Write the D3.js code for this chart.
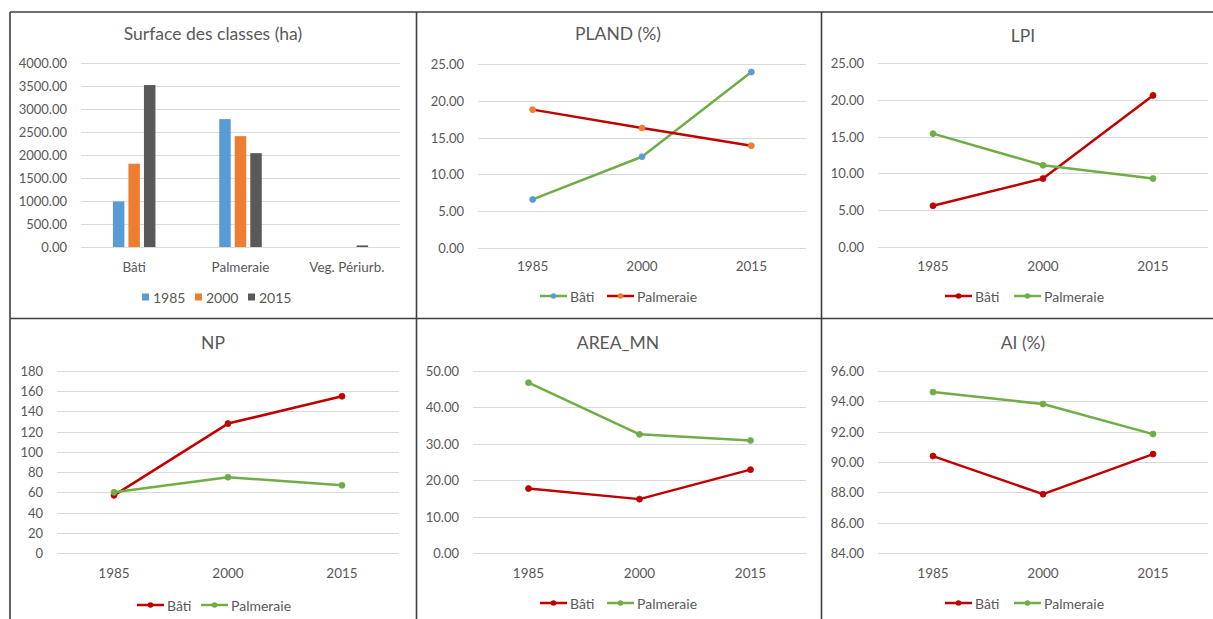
<!DOCTYPE html>
<html>
<head>
<meta charset="utf-8">
<script src="https://cdn.jsdelivr.net/npm/d3@7/dist/d3.min.js"></script>
<style>
  html, body { margin: 0; padding: 0; background: #fff; }
  svg { display: block; }
  text { font-family: Lato, "Open Sans", "Liberation Sans", sans-serif; fill: #595959; }
</style>
</head>
<body>
<svg id="chart" width="1213" height="619"></svg>
<script>
// ---------- DATA ----------
const years = ["1985", "2000", "2015"];
const surfaceCategories = ["Bâti", "Palmeraie", "Veg. Périurb."];
const surface1985 = [990, 2780, 0];
const surface2000 = [1810, 2410, 0];
const surface2015 = [3520, 2040, 35];
const surfaceTicks = [0, 500, 1000, 1500, 2000, 2500, 3000, 3500, 4000];

const plandBati = [6.6, 12.4, 23.9];
const plandPalmeraie = [18.8, 16.3, 13.9];
const lpiBati = [5.6, 9.3, 20.6];
const lpiPalmeraie = [15.4, 11.1, 9.3];
const npBati = [57, 128, 155];
const npPalmeraie = [60, 75, 67];
const areaBati = [17.7, 14.8, 22.9];
const areaPalmeraie = [46.8, 32.6, 30.9];
const aiBati = [90.39, 87.88, 90.52];
const aiPalmeraie = [94.61, 93.82, 91.84];

const ticks0to25 = [0, 5, 10, 15, 20, 25];
const ticksNP = [0, 20, 40, 60, 80, 100, 120, 140, 160, 180];
const ticksArea = [0, 10, 20, 30, 40, 50];
const ticksAI = [84, 86, 88, 90, 92, 94, 96];

// ---------- STYLE ----------
const RED = "#C00000", GREEN = "#70AD47", BLUE = "#5B9BD5", ORANGE = "#ED7D31", DARK = "#595959";
const GRID = "#D9D9D9";
const TITLE_FS = 17.5, TICK_FS = 13, XL_FS = 13.5, LEG_FS = 14;

const svg = d3.select("#chart");

// ---------- FRAME ----------
const frame = svg.append("g").attr("stroke", "#3f3f3f").attr("stroke-width", 1.6);
frame.append("line").attr("x1", 10).attr("x2", 1213).attr("y1", 12).attr("y2", 12);
frame.append("line").attr("x1", 10).attr("x2", 1213).attr("y1", 318.5).attr("y2", 318.5);
frame.append("line").attr("x1", 10).attr("x2", 10).attr("y1", 12).attr("y2", 619);
frame.append("line").attr("x1", 416.5).attr("x2", 416.5).attr("y1", 12).attr("y2", 619);
frame.append("line").attr("x1", 821.5).attr("x2", 821.5).attr("y1", 12).attr("y2", 619);

function drawAxes(g, y, ticks, fmt, left, right) {
  const ga = g.append("g");
  ga.selectAll("line.grid").data(ticks).join("line")
    .attr("x1", left).attr("x2", right)
    .attr("y1", d => Math.round(y(d)) + 0.5).attr("y2", d => Math.round(y(d)) + 0.5)
    .attr("stroke", GRID).attr("stroke-width", 1);
  ga.selectAll("text.tick").data(ticks).join("text")
    .attr("x", left - 14).attr("y", d => y(d))
    .attr("text-anchor", "end").attr("dominant-baseline", "central")
    .attr("font-size", TICK_FS).text(fmt);
}

// ---------- PANEL 1: BAR ----------
(function () {
  const L = 81, R = 400, T = 63, B = 247;
  const g = svg.append("g");
  g.append("text").attr("x", 213).attr("y", 33).attr("text-anchor", "middle")
    .attr("dominant-baseline", "central").attr("font-size", TITLE_FS).text("Surface des classes (ha)");
  const y = d3.scaleLinear().domain([0, 4000]).range([B, T]);
  drawAxes(g, y, surfaceTicks, d => d3.format(".2f")(d), L, R);
  const x0 = d3.scaleBand().domain(surfaceCategories).range([L, R]).paddingInner(0.6).paddingOuter(0.3);
  const x1 = d3.scaleBand().domain(years).range([0, x0.bandwidth()]).paddingInner(0.26);
  const series = [surface1985, surface2000, surface2015];
  const colors = [BLUE, ORANGE, DARK];
  years.forEach((yr, si) => {
    g.append("g").selectAll("rect").data(series[si]).join("rect")
      .attr("x", (d, i) => x0(surfaceCategories[i]) + x1(yr))
      .attr("width", x1.bandwidth())
      .attr("y", d => y(d)).attr("height", d => B - y(d))
      .attr("fill", colors[si]);
  });
  g.selectAll("text.cat").data(surfaceCategories).join("text")
    .attr("x", d => x0(d) + x0.bandwidth() / 2).attr("y", 267)
    .attr("text-anchor", "middle").attr("dominant-baseline", "central")
    .attr("font-size", XL_FS).text(d => d);
  // legend
  const lg = g.append("g");
  const legX = [142, 195, 248];
  years.forEach((yr, i) => {
    lg.append("rect").attr("x", legX[i]).attr("y", 293.5).attr("width", 7).attr("height", 7).attr("fill", colors[i]);
    lg.append("text").attr("x", legX[i] + 11).attr("y", 297).attr("dominant-baseline", "central")
      .attr("font-size", LEG_FS).text(yr);
  });
})();

// ---------- LINE PANELS ----------
function linePanel(cfg) {
  const g = svg.append("g");
  g.append("text").attr("x", cfg.titleX).attr("y", cfg.titleY).attr("text-anchor", "middle")
    .attr("dominant-baseline", "central").attr("font-size", TITLE_FS).text(cfg.title);
  const y = d3.scaleLinear().domain(cfg.domain).range([cfg.B, cfg.T]);
  drawAxes(g, y, cfg.ticks, cfg.fmt, cfg.L, cfg.R);
  const x = d3.scalePoint().domain(years).range([cfg.L, cfg.R]).padding(0.5);
  g.selectAll("text.xl").data(years).join("text")
    .attr("x", d => x(d)).attr("y", cfg.xlabelY).attr("text-anchor", "middle")
    .attr("dominant-baseline", "central").attr("font-size", XL_FS).text(d => d);
  const line = d3.line().x((d, i) => x(years[i])).y(d => y(d));
  cfg.series.forEach(s => {
    g.append("path").datum(s.values).attr("d", line).attr("fill", "none")
      .attr("stroke", s.color).attr("stroke-width", 2.5).attr("stroke-linejoin", "round");
    g.append("g").selectAll("circle").data(s.values).join("circle")
      .attr("cx", (d, i) => x(years[i])).attr("cy", d => y(d)).attr("r", 3)
      .attr("fill", s.marker).attr("stroke", s.marker).attr("stroke-width", 0.8);
  });
  // legend
  const lg = g.append("g");
  cfg.series.forEach((s, i) => {
    const lx = cfg.legX[i];
    lg.append("line").attr("x1", lx).attr("x2", lx + 27).attr("y1", cfg.legendY).attr("y2", cfg.legendY)
      .attr("stroke", s.color).attr("stroke-width", 2.5);
    lg.append("circle").attr("cx", lx + 13.5).attr("cy", cfg.legendY).attr("r", 2.8).attr("fill", s.marker);
    lg.append("text").attr("x", lx + 30).attr("y", cfg.legendY).attr("dominant-baseline", "central")
      .attr("font-size", LEG_FS).text(s.name);
  });
}

const f2 = d => d3.format(".2f")(d);

linePanel({
  title: "PLAND (%)", titleX: 618, titleY: 33, L: 478, R: 806, T: 64, B: 248,
  domain: [0, 25], ticks: ticks0to25, fmt: f2, xlabelY: 266, legendY: 296, legX: [540, 607],
  series: [
    { name: "Bâti", values: plandBati, color: GREEN, marker: BLUE },
    { name: "Palmeraie", values: plandPalmeraie, color: RED, marker: ORANGE }
  ]
});
linePanel({
  title: "LPI", titleX: 1023, titleY: 35, L: 878, R: 1208, T: 63, B: 247,
  domain: [0, 25], ticks: ticks0to25, fmt: f2, xlabelY: 266, legendY: 296, legX: [945, 1014],
  series: [
    { name: "Bâti", values: lpiBati, color: RED, marker: RED },
    { name: "Palmeraie", values: lpiPalmeraie, color: GREEN, marker: GREEN }
  ]
});
linePanel({
  title: "NP", titleX: 213, titleY: 342, L: 57, R: 399, T: 371, B: 553,
  domain: [0, 180], ticks: ticksNP, fmt: d => String(d), xlabelY: 573, legendY: 605, legX: [137, 201],
  series: [
    { name: "Bâti", values: npBati, color: RED, marker: RED },
    { name: "Palmeraie", values: npPalmeraie, color: GREEN, marker: GREEN }
  ]
});
linePanel({
  title: "AREA_MN", titleX: 618, titleY: 342, L: 473, R: 806, T: 371, B: 553,
  domain: [0, 50], ticks: ticksArea, fmt: f2, xlabelY: 573, legendY: 603, legX: [540, 607],
  series: [
    { name: "Bâti", values: areaBati, color: RED, marker: RED },
    { name: "Palmeraie", values: areaPalmeraie, color: GREEN, marker: GREEN }
  ]
});
linePanel({
  title: "AI (%)", titleX: 1023, titleY: 342, L: 878, R: 1208, T: 371, B: 553,
  domain: [84, 96], ticks: ticksAI, fmt: f2, xlabelY: 573, legendY: 603, legX: [945, 1014],
  series: [
    { name: "Bâti", values: aiBati, color: RED, marker: RED },
    { name: "Palmeraie", values: aiPalmeraie, color: GREEN, marker: GREEN }
  ]
});
</script>
</body>
</html>
